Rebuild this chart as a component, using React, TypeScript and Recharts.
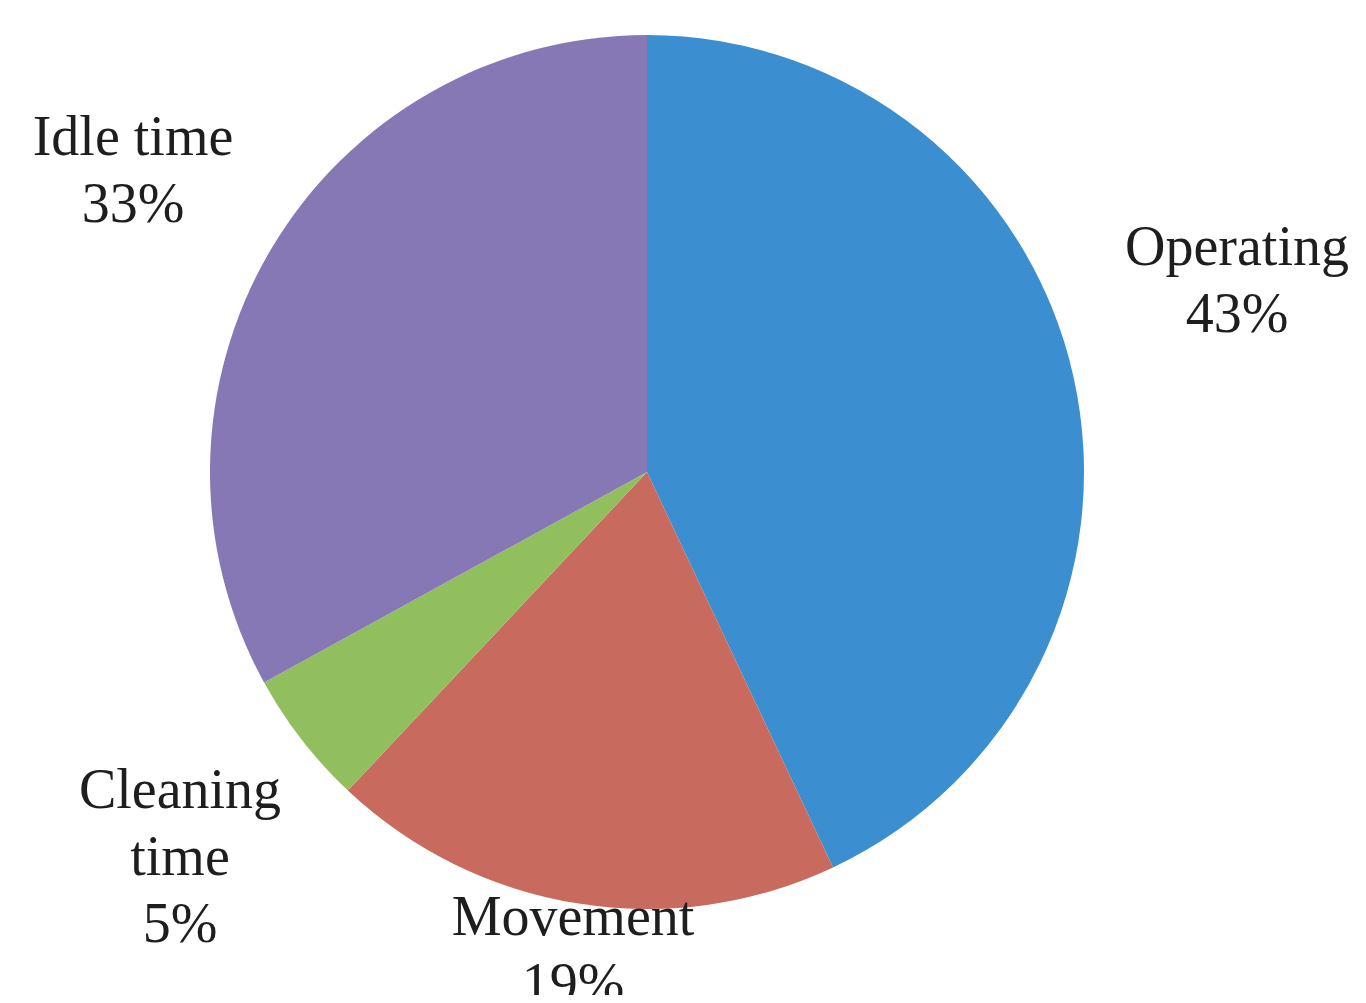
import { PieChart, Pie, Cell } from 'recharts';

const categorias = ['Operating', 'Movement', 'Cleaning time', 'Idle time'];
const percentuais = [43, 19, 5, 33];
const cores = ['#3b8ed0', '#c86a5e', '#91bf5e', '#8578b4'];

// label anchor (centre x, first baseline) relative to the pie centre
const posicaoRotulo: Record<string, [number, number, string[]]> = {
  Operating: [590, -207, ['Operating']],
  Movement: [-74, 463, ['Movement']],
  'Cleaning time': [-467, 336, ['Cleaning', 'time']],
  'Idle time': [-514, -317, ['Idle time']],
};

const dados = categorias.map((nome, i) => ({ nome, valor: percentuais[i] }));

const LARGURA = 1366;
const ALTURA = 1003;

export default function App() {
  const renderLabel = (props: any) => {
    const { cx, cy, payload } = props;
    const [dx, dy, linhas] = posicaoRotulo[payload.nome];
    const todas = [...linhas, `${payload.valor}%`];
    return (
      <text
        x={cx + dx}
        y={cy + dy}
        textAnchor="middle"
        fill="#1e1e1e"
        fontFamily="'Liberation Serif', 'DejaVu Serif', serif"
        fontSize={56}
      >
        {todas.map((t, i) => (
          <tspan key={i} x={cx + dx} dy={i === 0 ? 0 : 67}>
            {t}
          </tspan>
        ))}
      </text>
    );
  };

  return (
    <div style={{ margin: -8, background: '#fff', width: LARGURA, height: ALTURA }}>
      <PieChart width={LARGURA} height={ALTURA} margin={{ top: 0, right: 0, bottom: 0, left: 0 }}>
        <Pie
          data={dados}
          dataKey="valor"
          nameKey="nome"
          cx={647}
          cy={472}
          outerRadius={437}
          startAngle={90}
          endAngle={-270}
          stroke="none"
          label={renderLabel}
          labelLine={false}
          isAnimationActive={false}
        >
          {dados.map((_, i) => (
            <Cell key={`cell-${i}`} fill={cores[i]} />
          ))}
        </Pie>
      </PieChart>
    </div>
  );
}
